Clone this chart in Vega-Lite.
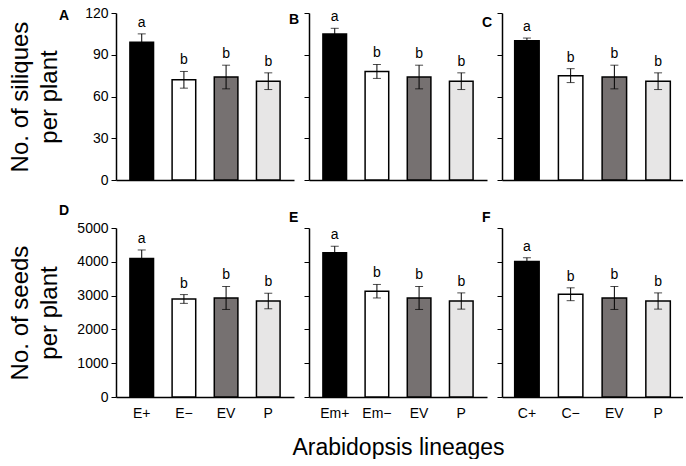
{
  "$schema": "https://vega.github.io/schema/vega-lite/v6.json",
  "background": "white",
  "padding": {"left": 8, "top": 6, "right": 0, "bottom": 0},
  "data": {
    "values": [
      {"panel": "A", "lineage": "E+", "kind": "pos", "mean": 99, "se": 6, "letter": "a"},
      {"panel": "A", "lineage": "E\u2212", "kind": "neg", "mean": 72, "se": 6, "letter": "b"},
      {"panel": "A", "lineage": "EV", "kind": "EV", "mean": 74, "se": 8.5, "letter": "b"},
      {"panel": "A", "lineage": "P", "kind": "P", "mean": 71, "se": 6, "letter": "b"},
      {"panel": "B", "lineage": "Em+", "kind": "pos", "mean": 105, "se": 4, "letter": "a"},
      {"panel": "B", "lineage": "Em\u2212", "kind": "neg", "mean": 78, "se": 5, "letter": "b"},
      {"panel": "B", "lineage": "EV", "kind": "EV", "mean": 74, "se": 8.5, "letter": "b"},
      {"panel": "B", "lineage": "P", "kind": "P", "mean": 71, "se": 6, "letter": "b"},
      {"panel": "C", "lineage": "C+", "kind": "pos", "mean": 100, "se": 2, "letter": "a"},
      {"panel": "C", "lineage": "C\u2212", "kind": "neg", "mean": 75, "se": 5, "letter": "b"},
      {"panel": "C", "lineage": "EV", "kind": "EV", "mean": 74, "se": 8.5, "letter": "b"},
      {"panel": "C", "lineage": "P", "kind": "P", "mean": 71, "se": 6, "letter": "b"},
      {"panel": "D", "lineage": "E+", "kind": "pos", "mean": 4100, "se": 250, "letter": "a"},
      {"panel": "D", "lineage": "E\u2212", "kind": "neg", "mean": 2900, "se": 130, "letter": "b"},
      {"panel": "D", "lineage": "EV", "kind": "EV", "mean": 2930, "se": 340, "letter": "b"},
      {"panel": "D", "lineage": "P", "kind": "P", "mean": 2840, "se": 230, "letter": "b"},
      {"panel": "E", "lineage": "Em+", "kind": "pos", "mean": 4270, "se": 190, "letter": "a"},
      {"panel": "E", "lineage": "Em\u2212", "kind": "neg", "mean": 3130, "se": 200, "letter": "b"},
      {"panel": "E", "lineage": "EV", "kind": "EV", "mean": 2930, "se": 340, "letter": "b"},
      {"panel": "E", "lineage": "P", "kind": "P", "mean": 2840, "se": 240, "letter": "b"},
      {"panel": "F", "lineage": "C+", "kind": "pos", "mean": 4010, "se": 110, "letter": "a"},
      {"panel": "F", "lineage": "C\u2212", "kind": "neg", "mean": 3040, "se": 190, "letter": "b"},
      {"panel": "F", "lineage": "EV", "kind": "EV", "mean": 2930, "se": 340, "letter": "b"},
      {"panel": "F", "lineage": "P", "kind": "P", "mean": 2840, "se": 240, "letter": "b"}
    ]
  },
  "spacing": 17,
  "vconcat": [
    {
      "bounds": "flush",
      "spacing": 15,
      "hconcat": [
        {
          "width": 178, "height": 167,
          "title": {"text": "A", "dx": -57, "offset": -17},
          "transform": [{"filter": "datum.panel === 'A'"}, {"calculate": "datum.mean + datum.se", "as": "upper"}],
          "encoding": {"x": {"field": "lineage", "type": "nominal", "sort": null, "title": null, "scale": {"paddingInner": 0.44, "paddingOuter": 0.33}, "axis": {"labels": false, "ticks": false}}},
          "layer": [
            {"mark": {"type": "bar", "stroke": "black", "strokeWidth": 1.5},
             "encoding": {
               "y": {"field": "mean", "type": "quantitative", "scale": {"domain": [0, 120], "nice": false},
                     "axis": {"values": [0, 30, 60, 90, 120], "title": ["No. of siliques", "per plant"], "minExtent": 40, "titlePadding": 15}},
               "fill": {"field": "kind", "type": "nominal", "scale": {"domain": ["pos", "neg", "EV", "P"], "range": ["#000000", "#ffffff", "#767171", "#e7e6e6"]}, "legend": null}}},
            {"mark": {"type": "errorbar", "ticks": {"size": 8, "color": "black"}, "rule": {"color": "black"}},
             "encoding": {"y": {"field": "mean", "type": "quantitative", "axis": {"values": [0, 30, 60, 90, 120], "title": ["No. of siliques", "per plant"], "minExtent": 40, "titlePadding": 15}}, "yError": {"field": "se"}}},
            {"mark": {"type": "text", "baseline": "bottom", "dy": -4, "fontSize": 14},
             "encoding": {"y": {"field": "upper", "type": "quantitative", "axis": {"values": [0, 30, 60, 90, 120], "title": ["No. of siliques", "per plant"], "minExtent": 40, "titlePadding": 15}}, "text": {"field": "letter"}}}
          ]
        },
        {
          "width": 178, "height": 167,
          "title": {"text": "B", "dx": -20, "offset": -17},
          "transform": [{"filter": "datum.panel === 'B'"}, {"calculate": "datum.mean + datum.se", "as": "upper"}],
          "encoding": {"x": {"field": "lineage", "type": "nominal", "sort": null, "title": null, "scale": {"paddingInner": 0.44, "paddingOuter": 0.33}, "axis": {"labels": false, "ticks": false}}},
          "layer": [
            {"mark": {"type": "bar", "stroke": "black", "strokeWidth": 1.5},
             "encoding": {
               "y": {"field": "mean", "type": "quantitative", "scale": {"domain": [0, 120], "nice": false},
                     "axis": {"values": [0, 30, 60, 90, 120], "title": null, "labels": false}},
               "fill": {"field": "kind", "type": "nominal", "scale": {"domain": ["pos", "neg", "EV", "P"], "range": ["#000000", "#ffffff", "#767171", "#e7e6e6"]}, "legend": null}}},
            {"mark": {"type": "errorbar", "ticks": {"size": 8, "color": "black"}, "rule": {"color": "black"}},
             "encoding": {"y": {"field": "mean", "type": "quantitative", "axis": {"values": [0, 30, 60, 90, 120], "title": null, "labels": false}}, "yError": {"field": "se"}}},
            {"mark": {"type": "text", "baseline": "bottom", "dy": -4, "fontSize": 14},
             "encoding": {"y": {"field": "upper", "type": "quantitative", "axis": {"values": [0, 30, 60, 90, 120], "title": null, "labels": false}}, "text": {"field": "letter"}}}
          ]
        },
        {
          "width": 181, "height": 167,
          "title": {"text": "C", "dx": -20, "offset": -17},
          "transform": [{"filter": "datum.panel === 'C'"}, {"calculate": "datum.mean + datum.se", "as": "upper"}],
          "encoding": {"x": {"field": "lineage", "type": "nominal", "sort": null, "title": null, "scale": {"paddingInner": 0.44, "paddingOuter": 0.29}, "axis": {"labels": false, "ticks": false}}},
          "layer": [
            {"mark": {"type": "bar", "stroke": "black", "strokeWidth": 1.5},
             "encoding": {
               "y": {"field": "mean", "type": "quantitative", "scale": {"domain": [0, 120], "nice": false},
                     "axis": {"values": [0, 30, 60, 90, 120], "title": null, "labels": false}},
               "fill": {"field": "kind", "type": "nominal", "scale": {"domain": ["pos", "neg", "EV", "P"], "range": ["#000000", "#ffffff", "#767171", "#e7e6e6"]}, "legend": null}}},
            {"mark": {"type": "errorbar", "ticks": {"size": 8, "color": "black"}, "rule": {"color": "black"}},
             "encoding": {"y": {"field": "mean", "type": "quantitative", "axis": {"values": [0, 30, 60, 90, 120], "title": null, "labels": false}}, "yError": {"field": "se"}}},
            {"mark": {"type": "text", "baseline": "bottom", "dy": -4, "fontSize": 14},
             "encoding": {"y": {"field": "upper", "type": "quantitative", "axis": {"values": [0, 30, 60, 90, 120], "title": null, "labels": false}}, "text": {"field": "letter"}}}
          ]
        }
      ]
    },
    {
      "bounds": "flush",
      "spacing": 15,
      "hconcat": [
        {
          "width": 178, "height": 169,
          "title": {"text": "D", "dx": -57, "offset": 3},
          "transform": [{"filter": "datum.panel === 'D'"}, {"calculate": "datum.mean + datum.se", "as": "upper"}],
          "encoding": {"x": {"field": "lineage", "type": "nominal", "sort": null, "title": null, "scale": {"paddingInner": 0.44, "paddingOuter": 0.33}, "axis": {"ticks": false, "labelAngle": 0, "labelPadding": 9}}},
          "layer": [
            {"mark": {"type": "bar", "stroke": "black", "strokeWidth": 1.5},
             "encoding": {
               "y": {"field": "mean", "type": "quantitative", "scale": {"domain": [0, 5000], "nice": false},
                     "axis": {"values": [0, 1000, 2000, 3000, 4000, 5000], "format": "d", "title": ["No. of seeds", "per plant"], "minExtent": 40, "titlePadding": 15}},
               "fill": {"field": "kind", "type": "nominal", "scale": {"domain": ["pos", "neg", "EV", "P"], "range": ["#000000", "#ffffff", "#767171", "#e7e6e6"]}, "legend": null}}},
            {"mark": {"type": "errorbar", "ticks": {"size": 8, "color": "black"}, "rule": {"color": "black"}},
             "encoding": {"y": {"field": "mean", "type": "quantitative", "axis": {"values": [0, 1000, 2000, 3000, 4000, 5000], "format": "d", "title": ["No. of seeds", "per plant"], "minExtent": 40, "titlePadding": 15}}, "yError": {"field": "se"}}},
            {"mark": {"type": "text", "baseline": "bottom", "dy": -4, "fontSize": 14},
             "encoding": {"y": {"field": "upper", "type": "quantitative", "axis": {"values": [0, 1000, 2000, 3000, 4000, 5000], "format": "d", "title": ["No. of seeds", "per plant"], "minExtent": 40, "titlePadding": 15}}, "text": {"field": "letter"}}}
          ]
        },
        {
          "width": 178, "height": 169,
          "title": {"text": "E", "dx": -20, "offset": 3},
          "transform": [{"filter": "datum.panel === 'E'"}, {"calculate": "datum.mean + datum.se", "as": "upper"}],
          "encoding": {"x": {"field": "lineage", "type": "nominal", "sort": null, "title": "Arabidopsis lineages", "scale": {"paddingInner": 0.44, "paddingOuter": 0.33}, "axis": {"ticks": false, "labelAngle": 0, "labelPadding": 9, "titleFontSize": 23, "titlePadding": 16}}},
          "layer": [
            {"mark": {"type": "bar", "stroke": "black", "strokeWidth": 1.5},
             "encoding": {
               "y": {"field": "mean", "type": "quantitative", "scale": {"domain": [0, 5000], "nice": false},
                     "axis": {"values": [0, 1000, 2000, 3000, 4000, 5000], "title": null, "labels": false}},
               "fill": {"field": "kind", "type": "nominal", "scale": {"domain": ["pos", "neg", "EV", "P"], "range": ["#000000", "#ffffff", "#767171", "#e7e6e6"]}, "legend": null}}},
            {"mark": {"type": "errorbar", "ticks": {"size": 8, "color": "black"}, "rule": {"color": "black"}},
             "encoding": {"y": {"field": "mean", "type": "quantitative", "axis": {"values": [0, 1000, 2000, 3000, 4000, 5000], "title": null, "labels": false}}, "yError": {"field": "se"}}},
            {"mark": {"type": "text", "baseline": "bottom", "dy": -4, "fontSize": 14},
             "encoding": {"y": {"field": "upper", "type": "quantitative", "axis": {"values": [0, 1000, 2000, 3000, 4000, 5000], "title": null, "labels": false}}, "text": {"field": "letter"}}}
          ]
        },
        {
          "width": 181, "height": 169,
          "title": {"text": "F", "dx": -20, "offset": 3},
          "transform": [{"filter": "datum.panel === 'F'"}, {"calculate": "datum.mean + datum.se", "as": "upper"}],
          "encoding": {"x": {"field": "lineage", "type": "nominal", "sort": null, "title": null, "scale": {"paddingInner": 0.44, "paddingOuter": 0.29}, "axis": {"ticks": false, "labelAngle": 0, "labelPadding": 9}}},
          "layer": [
            {"mark": {"type": "bar", "stroke": "black", "strokeWidth": 1.5},
             "encoding": {
               "y": {"field": "mean", "type": "quantitative", "scale": {"domain": [0, 5000], "nice": false},
                     "axis": {"values": [0, 1000, 2000, 3000, 4000, 5000], "title": null, "labels": false}},
               "fill": {"field": "kind", "type": "nominal", "scale": {"domain": ["pos", "neg", "EV", "P"], "range": ["#000000", "#ffffff", "#767171", "#e7e6e6"]}, "legend": null}}},
            {"mark": {"type": "errorbar", "ticks": {"size": 8, "color": "black"}, "rule": {"color": "black"}},
             "encoding": {"y": {"field": "mean", "type": "quantitative", "axis": {"values": [0, 1000, 2000, 3000, 4000, 5000], "title": null, "labels": false}}, "yError": {"field": "se"}}},
            {"mark": {"type": "text", "baseline": "bottom", "dy": -4, "fontSize": 14},
             "encoding": {"y": {"field": "upper", "type": "quantitative", "axis": {"values": [0, 1000, 2000, 3000, 4000, 5000], "title": null, "labels": false}}, "text": {"field": "letter"}}}
          ]
        }
      ]
    }
  ],
  "config": {
    "font": "Liberation Sans",
    "view": {"stroke": null},
    "axis": {"grid": false, "domainColor": "black", "domainWidth": 1.5, "tickColor": "black", "tickSize": 5, "labelColor": "black", "labelFontSize": 14, "labelPadding": 3, "titleColor": "black", "titleFontWeight": "normal", "titleFontSize": 24, "titleLineHeight": 29},
    "title": {"fontSize": 14, "fontWeight": "bold", "anchor": "start", "color": "black", "baseline": "bottom", "frame": "group"}
  }
}
